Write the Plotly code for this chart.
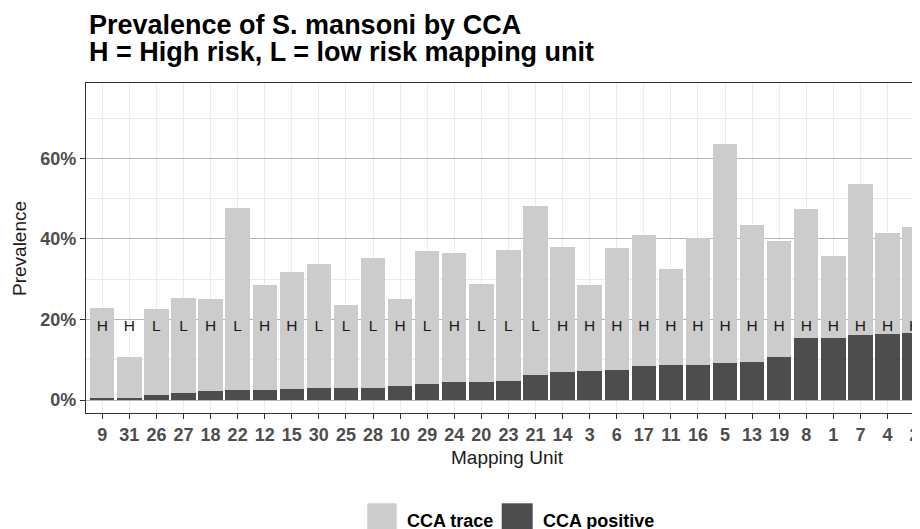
import plotly.graph_objects as go

# ---- data ----
units = ["9", "31", "26", "27", "18", "22", "12", "15", "30", "25", "28", "10", "29", "24", "20",
         "23", "21", "14", "3", "6", "17", "11", "16", "5", "13", "19", "8", "1", "7", "4", "2"]
risk = ["H", "H", "L", "L", "H", "L", "H", "H", "L", "L", "L", "H", "L", "H", "L",
        "L", "L", "H", "H", "H", "H", "H", "H", "H", "H", "H", "H", "H", "H", "H", "H"]
cca_positive = [0.6, 0.6, 1.2, 1.7, 2.2, 2.5, 2.6, 2.7, 2.9, 3.1, 3.1, 3.5, 3.9, 4.5, 4.5,
                4.7, 6.2, 6.9, 7.2, 7.5, 8.4, 8.6, 8.8, 9.3, 9.5, 10.7, 15.3, 15.5, 16.2, 16.5, 16.7]
cca_trace = [22.3, 10.1, 21.5, 23.7, 22.9, 45.1, 26.0, 29.1, 30.8, 20.5, 32.1, 21.5, 33.2, 32.0, 24.4,
             32.6, 42.0, 31.1, 21.3, 30.2, 32.5, 24.0, 31.4, 54.2, 34.0, 28.8, 32.1, 20.3, 37.5, 24.9, 26.2]
y_ticks = [0, 20, 40, 60]
y_tick_labels = ["0%", "20%", "40%", "60%"]
legend_names = ["CCA trace", "CCA positive"]

# ---- styles ----
FONT = "Liberation Sans, Arial, Helvetica, sans-serif"
LIGHT = "#cccccc"
DARK = "#4d4d4d"
LABEL_Y = 18.2
PAGE_OFFSET = 8            # default body margin of the html page
W, H = 920 - PAGE_OFFSET, 529 - PAGE_OFFSET
PLOT_LEFT, PLOT_TOP, PLOT_BOTTOM = 86, 83, 413   # page pixel positions of the panel
L_M = PLOT_LEFT - PAGE_OFFSET
T_M = PLOT_TOP - PAGE_OFFSET
B_M = H - (PLOT_BOTTOM - PAGE_OFFSET)
R_M = 0
PW, PH = W - L_M - R_M, H - T_M - B_M


def px_x(px):
    return (px - PLOT_LEFT) / PW


def px_y(py):
    return (PLOT_BOTTOM - py) / PH


fig = go.Figure()
fig.add_trace(go.Bar(x=units, y=cca_positive, name=legend_names[1], marker_color=DARK,
                     marker_line_width=0, showlegend=False))
fig.add_trace(go.Bar(x=units, y=cca_trace, name=legend_names[0], marker_color=LIGHT,
                     marker_line_width=0, showlegend=False))
fig.add_trace(go.Scatter(x=units, y=[LABEL_Y] * len(units), mode="text", text=risk,
                         textfont=dict(family=FONT, size=15.5, color="#1a1a1a"),
                         showlegend=False, hoverinfo="skip"))

fig.update_layout(
    width=W, height=H,
    margin=dict(l=L_M, r=R_M, t=T_M, b=B_M, pad=0),
    barmode="stack", bargap=0.1,
    plot_bgcolor="white", paper_bgcolor="white",
    font=dict(family=FONT, color="#1a1a1a"),
    showlegend=False,
)
fig.update_xaxes(
    type="category", range=[-0.6, 30.2],
    showgrid=True, gridcolor="#ebebeb", gridwidth=1.1,
    showline=True, linecolor="#333333", linewidth=1.1, mirror=True,
    ticks="outside", ticklen=5, tickcolor="#333333", tickwidth=1.1,
    tickfont=dict(family=FONT, size=18, color="#4d4d4d", weight="bold"),
    zeroline=False,
)
fig.update_yaxes(
    range=[-3.2, 78.7], tickvals=y_ticks, ticktext=y_tick_labels,
    showgrid=True, gridcolor="#b5b5b5", gridwidth=1.2,
    minor=dict(tickvals=[10, 30, 50, 70], showgrid=True, gridcolor="#ebebeb", gridwidth=1.0, ticks=""),
    showline=True, linecolor="#333333", linewidth=1.1, mirror=False,
    ticks="outside", ticklen=5, tickcolor="#333333", tickwidth=1.1,
    tickfont=dict(family=FONT, size=18, color="#4d4d4d", weight="bold"),
    zeroline=False,
)

anns = [
    dict(text="Prevalence of S. mansoni by CCA", x=px_x(87), y=px_y(25), xanchor="left", yanchor="middle",
         font=dict(family=FONT, size=27, color="black", weight="bold")),
    dict(text="H = High risk, L = low risk mapping unit", x=px_x(87), y=px_y(52), xanchor="left", yanchor="middle",
         font=dict(family=FONT, size=27, color="black", weight="bold")),
    dict(text="Mapping Unit", x=px_x(508), y=px_y(458), xanchor="center", yanchor="middle",
         font=dict(family=FONT, size=19, color="#1a1a1a")),
    dict(text="Prevalence", x=px_x(19), y=px_y(249), xanchor="center", yanchor="middle", textangle=-90,
         font=dict(family=FONT, size=19, color="#1a1a1a")),
    dict(text=legend_names[0], x=px_x(405), y=px_y(521), xanchor="left", yanchor="middle",
         font=dict(family=FONT, size=18, color="black", weight="bold")),
    dict(text=legend_names[1], x=px_x(540.5), y=px_y(521), xanchor="left", yanchor="middle",
         font=dict(family=FONT, size=18, color="black", weight="bold")),
]
for a in anns:
    a.update(xref="paper", yref="paper", showarrow=False)
fig.update_layout(annotations=anns)

fig.add_shape(type="rect", xref="paper", yref="paper", x0=px_x(367.3), x1=px_x(396.7),
              y0=px_y(533), y1=px_y(503.3), fillcolor=LIGHT, line_width=0)
fig.add_shape(type="rect", xref="paper", yref="paper", x0=px_x(501.7), x1=px_x(532.7),
              y0=px_y(533), y1=px_y(503.3), fillcolor=DARK, line_width=0)

fig.write_html("out.html")
